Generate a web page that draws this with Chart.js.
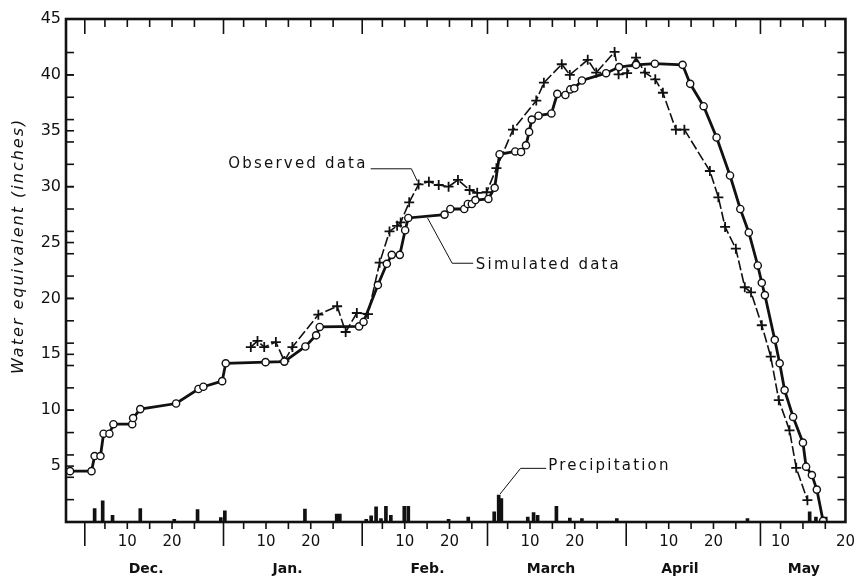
<!DOCTYPE html>
<html lang="en">
<head>
<meta charset="UTF-8">
<title>Water equivalent</title>
<script src="https://cdn.jsdelivr.net/npm/chart.js@4.4.0/dist/chart.umd.min.js"></script>
<style>
  html, body { margin: 0; padding: 0; background: #fff; }
</style>
</head>
<body>
<canvas id="chart1" width="866" height="579"></canvas>
<script>
// x values are days counted from Dec 1 (= day 0)
const monthNames = ['Dec.', 'Jan.', 'Feb.', 'March', 'April', 'May'];
const monthStart = [0, 31, 62, 90, 121, 151];
const monthLabelDay = [13.7, 45.3, 76.6, 104.2, 133.0, 160.7];
const xLabelDay = [9.5, 19.5, 40.5, 50.5, 71.5, 81.5, 99.5, 109.5, 130.5, 140.5, 155.5, 170];
const xLabelText = ['10', '20', '10', '20', '10', '20', '10', '20', '10', '20', '10', '20'];
const yLabelValues = [5, 10, 15, 20, 25, 30, 35, 40, 45];

// simulated water equivalent (circles)
const simDays = [-3.3, 1.5, 2.2, 3.5, 4.2, 5.5, 6.4, 10.6, 10.8, 12.4, 20.4, 25.4, 26.5, 30.7, 31.5,
  40.4, 44.6, 49.3, 51.7, 52.5, 61.3, 62.3, 65.5, 67.5, 68.6, 70.4, 71.6, 72.3, 80.4, 81.7,
  84.8, 85.6, 86.5, 87.3, 90.2, 91.6, 92.7, 96.2, 97.5, 98.6, 99.3, 99.9, 101.4, 104.3, 105.6,
  107.4, 108.5, 109.4, 111.1, 116.5, 119.4, 123.2, 127.4, 133.6, 135.3, 138.3, 141.2, 144.2, 146.5,
  148.4, 150.4, 151.3, 152.0, 154.2, 155.3, 156.4, 158.3, 160.5, 161.2, 162.5, 163.6, 165.0];
const simValues = [4.55, 4.55, 5.9, 5.9, 7.9, 7.9, 8.75, 8.75, 9.3, 10.1, 10.6, 11.9, 12.1, 12.6, 14.2,
  14.3, 14.35, 15.7, 16.7, 17.45, 17.5, 17.9, 21.2, 23.1, 23.9, 23.9, 26.1, 27.2, 27.5, 28.0,
  28.0, 28.45, 28.45, 28.8, 28.9, 29.9, 32.9, 33.15, 33.1, 33.7, 34.9, 36.0, 36.35, 36.55, 38.3,
  38.2, 38.7, 38.8, 39.5, 40.15, 40.7, 40.9, 41.0, 40.9, 39.2, 37.2, 34.4, 31.0, 28.0,
  25.9, 22.95, 21.4, 20.3, 16.3, 14.2, 11.8, 9.4, 7.1, 4.95, 4.2, 2.9, 0.1];

// observed water equivalent (crosses)
const obsDays = [37.1, 38.6, 40.1, 42.7, 44.6, 46.4, 52.2, 56.4, 58.3, 60.8, 63.3, 65.9, 68.1, 69.8,
  70.6, 72.5, 74.6, 76.9, 79.1, 81.3, 83.4, 86.0, 87.7, 89.8, 92.0, 95.7, 100.9, 102.6, 106.6,
  108.4, 112.4, 114.3, 118.4, 119.3, 121.2, 123.2, 125.2, 127.5, 129.2, 132.1, 134.0, 139.7,
  141.6, 143.1, 145.5, 147.5, 148.9, 151.3, 153.3, 155.1, 157.5, 159.0, 161.5];
const obsValues = [15.65, 16.2, 15.65, 16.1, 14.4, 15.65, 18.55, 19.3, 17.0, 18.7, 18.6, 23.2, 26.0, 26.5,
  26.8, 28.6, 30.2, 30.45, 30.15, 30.0, 30.6, 29.7, 29.45, 29.5, 31.65, 35.1, 37.7, 39.3, 40.95,
  40.0, 41.35, 40.2, 42.05, 40.05, 40.15, 41.55, 40.2, 39.6, 38.4, 35.1, 35.1, 31.4,
  29.05, 26.4, 24.45, 21.0, 20.55, 17.6, 14.8, 10.9, 8.2, 4.85, 1.95];

// daily precipitation (bars)
const precDays = [2.2, 4.0, 6.2, 12.4, 20.0, 25.2, 30.4, 31.3, 49.2, 56.3, 57.0, 62.9, 64.0, 65.1,
  66.2, 67.3, 68.4, 71.4, 72.3, 81.3, 85.7, 91.5, 92.5, 93.1, 99.0, 100.3, 101.2, 105.4, 108.4,
  111.1, 118.9, 148.1, 162.0, 163.4, 165.6];
const precValues = [1.2, 1.9, 0.6, 1.2, 0.25, 1.1, 0.4, 1.0, 1.15, 0.7, 0.7, 0.25, 0.55, 1.35,
  0.3, 1.4, 0.6, 1.4, 1.4, 0.25, 0.45, 0.9, 2.4, 2.1, 0.45, 0.85, 0.6, 1.4, 0.35,
  0.3, 0.3, 0.3, 0.9, 0.45, 0.45];

const pts = (xs, ys) => xs.map((x, i) => ({ x: x, y: ys[i] }));

// frame with inward ticks, tall ticks at month boundaries, and the labels with leaders
const frame = {
  id: 'frame',
  afterDatasetsDraw(chart) {
    const ctx = chart.ctx, a = chart.chartArea;
    const xs = chart.scales.x, ys = chart.scales.y;
    const line = (pl) => {
      ctx.beginPath();
      pl.forEach((p, i) => i ? ctx.lineTo(p[0], p[1]) : ctx.moveTo(p[0], p[1]));
      ctx.stroke();
    };
    ctx.save();
    ctx.strokeStyle = '#111';
    ctx.lineWidth = 1.6;
    monthStart.forEach(s => {
      const px = xs.getPixelForValue(s);
      line([[px, a.bottom], [px, a.bottom + 24]]);
      line([[px, a.top], [px, a.top + 15]]);
      [4.5, 9.5, 14.5, 19.5, 24.5].forEach(o => {
        if (s + o > xs.max) return;
        const q = xs.getPixelForValue(s + o);
        line([[q, a.bottom], [q, a.bottom + 7]]);
        line([[q, a.top], [q, a.top + 8]]);
      });
    });
    for (let v = 2; v < 44; v += 2) {
      const py = ys.getPixelForValue(v);
      line([[a.left, py], [a.left + 8, py]]);
      line([[a.right, py], [a.right - 8, py]]);
    }
    yLabelValues.forEach(v => {
      const py = ys.getPixelForValue(v);
      line([[a.left, py], [a.left + 8, py]]);
    });
    ctx.lineWidth = 2.6;
    ctx.strokeRect(a.left, a.top, a.right - a.left, a.bottom - a.top);

    // y title
    ctx.fillStyle = '#111';
    ctx.font = 'italic 16px "DejaVu Sans"';
    ctx.letterSpacing = '2px';
    ctx.textAlign = 'center';
    ctx.textBaseline = 'middle';
    ctx.save();
    ctx.translate(19, ys.getPixelForValue(24.7));
    ctx.rotate(-Math.PI / 2);
    ctx.fillText('Water equivalent (inches)', 0, 0);
    ctx.restore();

    // annotations, anchored in data units
    const P = (d, v) => [xs.getPixelForValue(d), ys.getPixelForValue(v)];
    ctx.font = '15px "DejaVu Sans"';
    ctx.letterSpacing = '2.2px';
    ctx.lineWidth = 1;
    ctx.textAlign = 'right';
    let p = P(63.2, 32.05);
    ctx.fillText('Observed data', p[0], p[1]);
    line([P(63.9, 31.6), P(73.0, 31.6), P(74.3, 30.5)]);
    ctx.textAlign = 'left';
    p = P(87.4, 22.95);
    ctx.fillText('Simulated data', p[0], p[1]);
    line([P(86.8, 23.15), P(82.1, 23.15), P(76.6, 27.2)]);
    p = P(103.6, 5.0);
    ctx.fillText('Precipitation', p[0], p[1]);
    line([P(103.1, 4.8), P(97.4, 4.8), P(92.8, 2.5)]);
    ctx.restore();
  }
};

Chart.defaults.font.family = '"DejaVu Sans"';
Chart.defaults.color = '#111';

const chart1 = new Chart(document.getElementById('chart1'), {
  type: 'line',
  data: {
    datasets: [
      {
        label: 'Simulated data',
        data: pts(simDays, simValues),
        borderColor: '#111',
        borderWidth: 2.8,
        pointStyle: 'circle',
        pointRadius: 3.6,
        pointBorderWidth: 1.4,
        pointBackgroundColor: '#fff',
        pointBorderColor: '#111'
      },
      {
        label: 'Observed data',
        data: pts(obsDays, obsValues),
        borderColor: '#111',
        borderWidth: 1.6,
        borderDash: [10, 3],
        pointStyle: 'cross',
        pointRadius: 5,
        pointBorderWidth: 1.8,
        pointBorderColor: '#111'
      },
      {
        type: 'bar',
        label: 'Precipitation',
        data: pts(precDays, precValues),
        backgroundColor: '#111',
        barThickness: 3
      }
    ]
  },
  options: {
    responsive: false,
    animation: false,
    layout: { padding: { top: 19, right: 11, left: 0, bottom: 0 } },
    plugins: { legend: { display: false }, tooltip: { enabled: false } },
    scales: {
      x: {
        type: 'linear',
        position: 'bottom',
        min: -4.2,
        max: 170,
        offset: false,
        weight: 0,
        grid: { display: false, drawTicks: false },
        border: { display: false },
        afterBuildTicks: (s) => { s.ticks = xLabelDay.map(v => ({ value: v })); },
        afterFit: (s) => { s.height = 30; },
        ticks: {
          autoSkip: false,
          maxRotation: 0,
          padding: 11,
          font: { size: 15 },
          callback: (v, i) => xLabelText[i]
        }
      },
      months: {
        type: 'linear',
        position: 'bottom',
        min: -4.2,
        max: 170,
        weight: 1,
        grid: { display: false, drawTicks: false },
        border: { display: false },
        afterBuildTicks: (s) => { s.ticks = monthLabelDay.map(v => ({ value: v })); },
        afterFit: (s) => { s.height = 27; },
        ticks: {
          autoSkip: false,
          maxRotation: 0,
          padding: 9,
          font: { size: 14, weight: 'bold' },
          callback: (v, i) => monthNames[i]
        }
      },
      y: {
        min: 0,
        max: 45,
        grid: { display: false, drawTicks: false },
        border: { display: false },
        afterBuildTicks: (s) => { s.ticks = yLabelValues.map(v => ({ value: v })); },
        afterFit: (s) => { s.width = 66; },
        ticks: { padding: 5, font: { size: 16 } }
      }
    }
  },
  plugins: [frame]
});
</script>
</body>
</html>
